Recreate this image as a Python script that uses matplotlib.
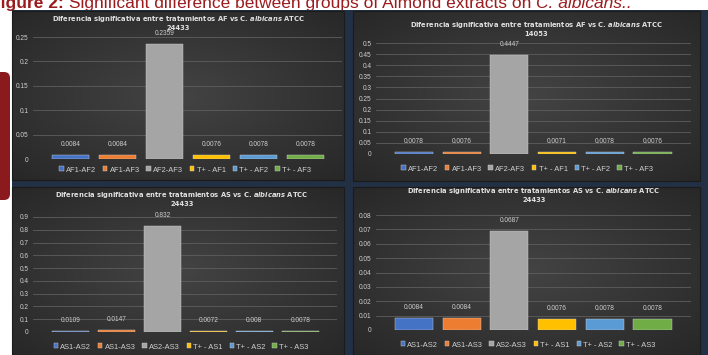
import numpy as np
import matplotlib.pyplot as plt
from matplotlib.patches import Rectangle, FancyBboxPatch

W, H = 708, 355

plt.rcParams["mathtext.fontset"] = "custom"
plt.rcParams["mathtext.it"] = "DejaVu Sans:bold:italic"
plt.rcParams["mathtext.rm"] = "DejaVu Sans:bold"

# data
labels_af = ["AF1-AF2", "AF1-AF3", "AF2-AF3", "T+ - AF1", "T+ - AF2", "T+ - AF3"]
labels_as = ["AS1-AS2", "AS1-AS3", "AS2-AS3", "T+ - AS1", "T+ - AS2", "T+ - AS3"]
af_24433 = [0.0084, 0.0084, 0.2359, 0.0076, 0.0078, 0.0078]
af_14053 = [0.0078, 0.0076, 0.4447, 0.0071, 0.0078, 0.0076]
as_24433_a = [0.0109, 0.0147, 0.832, 0.0072, 0.008, 0.0078]
as_24433_b = [0.0084, 0.0084, 0.0687, 0.0076, 0.0078, 0.0078]

colors = ["#4472C4", "#ED7D31", "#A5A5A5", "#FFC000", "#5B9BD5", "#70AD47"]
title_tpl = "Diferencia significativa entre tratamientos {} vs C. $\\mathit{{albicans}}$ ATCC\n{}"

# layout in pixels: panel box, plot box, xlim, ylim, tick step, title (cx, cy), legend (cx, cy)
panels = [
    dict(vals=af_24433, labels=labels_af, grp="AF", strain="24433",
         box=(12, 11, 344, 180), ax=(33, 37, 342, 159), xlim=(-0.80, 5.78),
         ylim=0.25, step=0.05, title=(178, 22.5), leg=(185, 170)),
    dict(vals=af_14053, labels=labels_af, grp="AF", strain="14053",
         box=(353, 11, 700, 181), ax=(376, 43, 691, 154), xlim=(-0.797, 5.807),
         ylim=0.5, step=0.05, title=(536, 29), leg=(527, 169)),
    dict(vals=as_24433_a, labels=labels_as, grp="AS", strain="24433",
         box=(12, 187, 344, 355), ax=(33, 217, 337, 332), xlim=(-0.82, 5.80),
         ylim=0.9, step=0.1, title=(182, 199), leg=(181, 347)),
    dict(vals=as_24433_b, labels=labels_as, grp="AS", strain="24433",
         box=(353, 187, 700, 355), ax=(376, 215, 691, 330), xlim=(-0.797, 5.807),
         ylim=0.08, step=0.01, title=(534, 194), leg=(528, 345)),
]


def frect(x0, y0, x1, y1):
    return [x0 / W, 1 - y1 / H, (x1 - x0) / W, (y1 - y0) / H]


fig = plt.figure(figsize=(W / 100, H / 100), dpi=100)
fig.patch.set_facecolor("white")
base = fig.add_axes([0, 0, 1, 1])
base.axis("off")

# caption, only the lower part is visible in the screenshot
renderer = fig.canvas.get_renderer()
caption = [("Figure 2:", "bold", "normal"),
           (" Significant difference between groups of Almond extracts on ", "normal", "normal"),
           ("C. albicans..", "normal", "italic")]
x = -10
for s, w, st in caption:
    t = base.text(x, 8, s, fontsize=12.5, fontweight=w, fontstyle=st, color="#9a1c1f",
                  family="Liberation Sans", va="baseline", ha="left", zorder=0)
    x += t.get_window_extent(renderer).width

base.add_patch(FancyBboxPatch((-10, 72), 20, 128, boxstyle="round,pad=0,rounding_size=6",
                              fc="#8a1a1e", ec="none", zorder=1))
base.add_patch(Rectangle((12, 10), W - 12, H - 10, fc="#223045", ec="none", zorder=2))

ny, nx = 80, 160
yy, xx = np.mgrid[-1:1:ny * 1j, -1:1:nx * 1j]
rad = np.sqrt(xx ** 2 + yy ** 2) / np.sqrt(2)
shade = 0.265 - 0.11 * rad
grad = np.dstack([shade, shade, shade])

for p in panels:
    x0, y0, x1, y1 = p["box"]
    base.imshow(grad, extent=(x0, x1, y1, y0), aspect="auto", interpolation="bilinear", zorder=3)
    base.add_patch(Rectangle((x0, y0), x1 - x0, y1 - y0, fc="none", ec="#1b1b1b", lw=0.8, zorder=4))

base.set_xlim(0, W)
base.set_ylim(H, 0)

for p in panels:
    ax = fig.add_axes(frect(*p["ax"]))
    ax.set_facecolor("none")
    handles = []
    for i, (v, lab, c) in enumerate(zip(p["vals"], p["labels"], colors)):
        b = ax.bar(i, v, width=0.8, color=c, edgecolor="#d0d0d0", linewidth=0.3, label=lab, zorder=3)
        handles.append(b)
        ax.annotate(f"{v:g}", (i, v), xytext=(0, 5), textcoords="offset points",
                    ha="center", va="bottom", fontsize=4.7, color="#d0d0d0",
                    family="Liberation Sans")
    ax.set_xlim(*p["xlim"])
    ax.set_ylim(0, p["ylim"])
    ticks = np.arange(0, p["ylim"] + p["step"] / 2, p["step"])
    ax.set_yticks(ticks)
    ax.set_yticklabels([f"{t:.2f}".rstrip("0").rstrip(".") for t in ticks])
    ax.tick_params(axis="y", length=0, pad=3, labelsize=4.7, labelcolor="#d0d0d0")
    ax.set_xticks([])
    for s in ax.spines.values():
        s.set_visible(False)
    ax.yaxis.grid(True, color="#5e5e5e", lw=0.6, zorder=0)
    ax.set_axisbelow(True)
    for lab in ax.get_yticklabels():
        lab.set_family("Liberation Sans")

    fig.text(p["title"][0] / W, 1 - p["title"][1] / H, title_tpl.format(p["grp"], p["strain"]),
             ha="center", va="center", fontsize=4.9, fontweight="bold", color="#e0e0e0",
             linespacing=1.2)
    leg = ax.legend(handles=handles, loc="center", ncol=6, frameon=False,
                    bbox_to_anchor=(p["leg"][0] / W, 1 - p["leg"][1] / H),
                    bbox_transform=fig.transFigure, fontsize=5.4,
                    handlelength=0.6, handleheight=0.6, handletextpad=0.3,
                    columnspacing=0.9, borderaxespad=0)
    for t in leg.get_texts():
        t.set_color("#d0d0d0")
        t.set_family("Liberation Sans")

fig.savefig("out.png", dpi=100)
